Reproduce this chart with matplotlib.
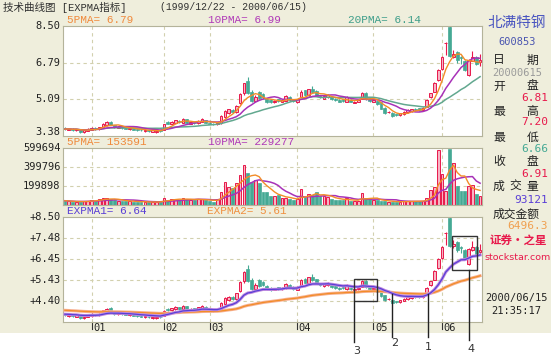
import numpy as np
import pandas as pd
import matplotlib
matplotlib.use("Agg")
import matplotlib.pyplot as plt
from matplotlib.patches import Rectangle

# 北满特钢 600853, daily bars 1999/12/22 - 2000/06/15
opens = [3.76, 3.66, 3.72, 3.64, 3.68, 3.56, 3.62,
         3.66, 3.76, 3.70, 3.78, 3.88, 4.04, 3.88, 3.76, 3.82, 3.78, 3.70, 3.74, 3.70, 3.68, 3.60, 3.64, 3.58, 3.56, 3.64,
         3.68, 4.02, 3.96, 4.00, 4.10, 4.00, 4.16, 3.96, 4.05, 3.98, 4.05, 4.12,
         3.98, 3.96, 3.93, 3.98, 4.28, 4.45, 4.60, 4.50, 4.90, 5.38, 5.95, 5.45, 5.00, 5.45, 5.35, 5.12, 5.05, 4.95, 5.08, 4.98, 5.02, 5.20, 5.10,
         4.95, 5.20, 5.50, 5.29, 5.55, 5.48, 5.25, 5.12, 5.18, 5.20, 5.12, 5.06, 5.08, 4.98, 5.04, 4.92, 4.98, 5.10, 5.38, 5.15,
         4.98, 5.00, 4.95, 4.70, 4.48, 4.45, 4.40, 4.36, 4.42, 4.50, 4.56, 4.64, 4.66, 4.58, 4.75, 5.20, 5.45, 5.99,
         6.49, 7.70, 8.45, 7.07, 7.30, 7.05, 6.88, 6.22, 6.88, 7.05, 6.81]
closes = [3.70, 3.72, 3.66, 3.70, 3.58, 3.64, 3.70,
          3.76, 3.70, 3.78, 3.96, 4.02, 3.90, 3.78, 3.82, 3.76, 3.72, 3.76, 3.68, 3.66, 3.64, 3.66, 3.60, 3.64, 3.62, 3.60,
          3.94, 3.96, 4.05, 4.12, 4.02, 4.18, 4.00, 4.02, 3.98, 4.10, 4.18, 4.00,
          3.94, 3.92, 3.98, 4.32, 4.55, 4.62, 4.50, 4.78, 5.35, 5.83, 5.38, 5.00, 5.20, 5.15, 5.20, 4.98, 4.95, 5.02, 5.00, 5.06, 5.25, 5.05, 5.00,
          5.08, 5.45, 5.30, 5.55, 5.45, 5.25, 5.20, 5.25, 5.30, 5.10, 5.05, 4.98, 5.02, 5.20, 4.98, 4.97, 5.05, 5.40, 5.10, 5.00,
          5.06, 4.85, 4.65, 4.45, 4.50, 4.32, 4.35, 4.43, 4.50, 4.58, 4.63, 4.60, 4.60, 4.68, 5.05, 5.36, 5.86, 6.45,
          7.04, 7.72, 7.10, 7.20, 6.90, 7.00, 6.45, 6.92, 7.05, 6.72, 6.91]
highs = [3.78, 3.75, 3.74, 3.72, 3.70, 3.66, 3.74,
         3.80, 3.78, 3.82, 3.98, 4.06, 4.10, 3.90, 3.86, 3.84, 3.80, 3.78, 3.76, 3.72, 3.70, 3.68, 3.66, 3.66, 3.64, 3.66,
         3.96, 4.06, 4.08, 4.14, 4.12, 4.20, 4.18, 4.06, 4.08, 4.12, 4.22, 4.14,
         4.02, 3.98, 4.00, 4.34, 4.58, 4.66, 4.64, 4.80, 5.38, 5.86, 6.14, 5.52, 5.28, 5.48, 5.38, 5.16, 5.08, 5.06, 5.10, 5.10, 5.30, 5.22, 5.12,
         5.12, 5.50, 5.54, 5.58, 5.72, 5.50, 5.30, 5.30, 5.34, 5.24, 5.16, 5.10, 5.12, 5.22, 5.08, 5.00, 5.08, 5.44, 5.42, 5.18,
         5.10, 5.02, 4.98, 4.72, 4.55, 4.48, 4.42, 4.46, 4.54, 4.62, 4.66, 4.68, 4.68, 4.72, 5.08, 5.40, 5.90, 6.50,
         7.10, 7.75, 8.50, 7.40, 7.35, 7.10, 6.92, 6.98, 7.32, 7.10, 7.20]
lows = [3.66, 3.64, 3.62, 3.60, 3.52, 3.54, 3.60,
        3.64, 3.66, 3.68, 3.76, 3.86, 3.88, 3.74, 3.74, 3.72, 3.70, 3.68, 3.66, 3.62, 3.60, 3.58, 3.56, 3.55, 3.54, 3.56,
        3.66, 3.94, 3.94, 3.98, 3.98, 3.98, 3.96, 3.94, 3.94, 3.96, 4.02, 3.98,
        3.92, 3.88, 3.90, 3.96, 4.24, 4.40, 4.44, 4.46, 4.86, 5.30, 5.34, 4.96, 4.96, 5.10, 5.12, 4.92, 4.90, 4.92, 4.96, 4.95, 5.00, 5.02, 4.96,
        4.92, 5.18, 5.26, 5.26, 5.40, 5.22, 5.14, 5.10, 5.14, 5.06, 5.00, 4.94, 4.98, 4.96, 4.94, 4.90, 4.95, 5.08, 5.06, 4.96,
        4.96, 4.82, 4.62, 4.40, 4.44, 4.28, 4.30, 4.32, 4.38, 4.46, 4.52, 4.55, 4.56, 4.55, 4.72, 5.15, 5.42, 5.95,
        6.45, 7.15, 7.05, 7.00, 6.80, 6.75, 6.40, 6.15, 6.85, 6.68, 6.66]
volumes = [45000, 40000, 35000, 30000, 35000, 40000, 45000,
           55000, 45000, 60000, 70000, 78000, 60000, 50000, 45000, 40000, 38000, 42000, 35000, 32000, 30000, 35000, 28000, 32000, 30000, 35000,
           70000, 55000, 60000, 65000, 55000, 70000, 60000, 55000, 50000, 65000, 60000, 50000,
           40000, 35000, 60000, 140000, 245000, 190000, 175000, 228000, 316000, 420000, 333000, 245000, 263000, 228000, 140000, 140000, 90000, 95000, 100000, 75000, 70000, 60000, 50000,
           60000, 165000, 80000, 115000, 100000, 140000, 95000, 90000, 85000, 60000, 55000, 50000, 55000, 70000, 45000, 40000, 45000, 123000, 70000, 65000,
           55000, 50000, 40000, 38000, 35000, 35000, 32000, 35000, 38000, 40000, 42000, 40000, 38000, 45000, 70000, 160000, 190000, 580000,
           330000, 150000, 590000, 440000, 200000, 145000, 150000, 195000, 210000, 120000, 93121]

month_labels = ["01", "02", "03", "04", "05", "06"]
month_starts = [7, 26, 38, 61, 81, 99]

price_ticks = [8.50, 6.79, 5.09, 3.38]
vol_ticks = [599694, 399796, 199898]
expma_ticks = [8.50, 7.48, 6.45, 5.43, 4.40]

info_labels = ["日期", "开盘", "最高", "最低", "收盘", "成交量", "成交金额"]
info_values = ["20000615", "6.81", "7.20", "6.66", "6.91", "93121", "6496.3"]

BG = "#EFEEDC"
RED = "#E8194B"
PINK = "#F7B4C4"
TEAL = "#45A994"
ORANGE = "#F28C28"
PURPLE = "#A832B8"
GREEN = "#62A88F"
BLUE = "#5A3FD6"
GRID = "#D2D0AE"
SPINE = "#B4B39A"
CJK = ["Noto Sans CJK SC", "DejaVu Sans"]
MONO = ["DejaVu Sans Mono", "Noto Sans CJK SC"]
LMONO = ["Liberation Mono", "Noto Sans CJK SC"]

W, H = 551, 360


def fx(px):
    return px / W


def fy(py):
    return 1 - py / H


def box(x0, y0, x1, y1):
    return [fx(x0), fy(y1), (x1 - x0) / W, (y1 - y0) / H]


def expma(values, span, start):
    alpha = 2 / (span + 1)
    out = []
    prev = start
    for v in values:
        prev = prev + alpha * (v - prev)
        out.append(prev)
    return np.array(out)


o = np.array(opens)
c = np.array(closes)
hi = np.array(highs)
lo = np.array(lows)
vol = np.array(volumes, dtype=float)
x = np.arange(len(c))
up = c >= o

ma5 = pd.Series(c).rolling(5, min_periods=1).mean()
ma10 = pd.Series(c).rolling(10, min_periods=1).mean()
ma20 = pd.Series(c).rolling(20, min_periods=1).mean()
vma5 = pd.Series(vol).rolling(5, min_periods=1).mean()
vma10 = pd.Series(vol).rolling(10, min_periods=1).mean()
exp1 = expma(c, 12, 3.77)
exp2 = expma(c, 50, 3.96)

fig = plt.figure(figsize=(5.51, 3.60), dpi=100)
fig.patch.set_facecolor("white")
fig.add_artist(Rectangle((0, fy(333)), 1, 1 - fy(333), transform=fig.transFigure,
                         facecolor=BG, edgecolor="none", zorder=0))

ax1 = fig.add_axes(box(63, 26, 482, 136))
ax2 = fig.add_axes(box(63, 148, 482, 205))
ax3 = fig.add_axes(box(63, 217, 482, 322))

for ax in (ax1, ax2, ax3):
    ax.set_facecolor("white")
    ax.set_xlim(-0.5, len(c) - 0.5)
    ax.set_xticks([])
    ax.set_yticks([])
    for s in ax.spines.values():
        s.set_color(SPINE)
        s.set_linewidth(0.8)
    for m in month_starts:
        ax.axvline(m, color=GRID, lw=0.8, ls=(0, (3, 3)), zorder=1)


def candles(ax):
    ax.vlines(x[up], lo[up], hi[up], color=RED, lw=0.8, zorder=2)
    ax.vlines(x[~up], lo[~up], hi[~up], color=TEAL, lw=0.8, zorder=2)
    bottom = np.minimum(o, c)
    height = np.maximum(np.abs(c - o), 0.025)
    ax.bar(x[up], height[up], bottom=bottom[up], width=0.72,
           facecolor=PINK, edgecolor=RED, lw=0.7, zorder=2)
    ax.bar(x[~up], height[~up], bottom=bottom[~up], width=0.72,
           facecolor=TEAL, edgecolor=TEAL, lw=0.5, zorder=2)


# price panel with moving averages
ax1.set_ylim(3.38, 8.50)
for t in price_ticks[1:3]:
    ax1.axhline(t, color=GRID, lw=0.8, ls=(0, (3, 3)), zorder=1)
candles(ax1)
ax1.plot(x, ma20, color=GREEN, lw=1.1, zorder=3)
ax1.plot(x, ma10, color=PURPLE, lw=1.1, zorder=3)
ax1.plot(x, ma5, color=ORANGE, lw=1.0, zorder=3)
ytr = ax1.get_yaxis_transform()
for t in price_ticks:
    off = 0.18 if t == price_ticks[-1] else 0
    ax1.text(-0.006, t + off, f"{t:.2f}", transform=ytr, ha="right", va="center",
             fontsize=7.5, family=MONO, color="#222222")

# volume panel
ax2.set_ylim(0, 599694)
for t in vol_ticks[1:]:
    ax2.axhline(t, color=GRID, lw=0.8, ls=(0, (3, 3)), zorder=1)
ax2.bar(x[up], vol[up], width=0.72, facecolor=PINK, edgecolor=RED, lw=0.7, zorder=2)
ax2.bar(x[~up], vol[~up], width=0.72, facecolor=TEAL, edgecolor=TEAL, lw=0.5, zorder=2)
ax2.plot(x, vma10, color=PURPLE, lw=1.1, zorder=3)
ax2.plot(x, vma5, color=ORANGE, lw=1.0, zorder=3)
ytr = ax2.get_yaxis_transform()
for t in vol_ticks:
    ax2.text(-0.006, t, str(t), transform=ytr, ha="right", va="center",
             fontsize=7.5, family=MONO, color="#222222")

# EXPMA panel
ax3.set_ylim(3.38, 8.50)
for t in expma_ticks[1:]:
    ax3.axhline(t, color=GRID, lw=0.8, ls=(0, (3, 3)), zorder=1)
candles(ax3)
ax3.plot(x, exp2, color="#F7B090", lw=2.2, zorder=3)
ax3.plot(x, exp2, color=ORANGE, lw=0.9, zorder=3)
ax3.plot(x, exp1, color="#C08AE0", lw=2.2, zorder=3)
ax3.plot(x, exp1, color=BLUE, lw=0.9, zorder=3)
ytr = ax3.get_yaxis_transform()
for t in expma_ticks:
    ax3.text(-0.006, t, f"+{t:.2f}", transform=ytr, ha="right", va="center",
             fontsize=7.5, family=MONO, color="#222222")
xtr = ax3.get_xaxis_transform()
for m, lab in zip(month_starts, month_labels):
    ax3.plot([m, m], [0, -0.07], transform=xtr, color="#333333", lw=0.8, clip_on=False)
    ax3.text(m + 0.4, -0.06, lab, transform=xtr, ha="left", va="center",
             fontsize=7.5, family=MONO, color="#222222")

# marked zones and signals below the EXPMA panel
ax3.add_patch(Rectangle((75.9, 4.40), 6.0, 1.06, fill=False, edgecolor="#333333", lw=1.0,
                        zorder=4, clip_on=False))
ax3.add_patch(Rectangle((101.5, 5.90), 6.7, 1.66, fill=False, edgecolor="#333333", lw=1.0,
                        zorder=4, clip_on=False))
signals = [("3", 75.9, 4.40, 2.40, 76.6, 1.98),
           ("2", 85.9, 4.75, 2.65, 86.5, 2.35),
           ("1", 95.2, 4.73, 2.65, 95.4, 2.16),
           ("4", 106.1, 5.90, 2.50, 106.7, 2.06)]
for lab, sx, y_top, y_bot, tx, ty in signals:
    ax3.plot([sx, sx], [y_top, y_bot], color="#222222", lw=1.0, clip_on=False, zorder=4)
    ax3.text(tx, ty, lab, ha="center", va="center", fontsize=8, color="#333333",
             family=["DejaVu Sans"], clip_on=False)

# headers
fig.text(fx(3), fy(7), "技术曲线图 [EXPMA指标]", fontsize=7.6, family=LMONO,
         color="#303030", va="center")
fig.text(fx(160), fy(7), "(1999/12/22 - 2000/06/15)", fontsize=7.0, family=LMONO,
         color="#303030", va="center")
fig.text(fx(67), fy(20), "5PMA= 6.79", fontsize=8, family=LMONO, color="#F08A3C", va="center")
fig.text(fx(208), fy(20), "10PMA= 6.99", fontsize=8, family=LMONO, color="#B03AB8", va="center")
fig.text(fx(348), fy(20), "20PMA= 6.14", fontsize=8, family=LMONO, color="#3E9E8A", va="center")
fig.text(fx(67), fy(142), "5PMA= 153591", fontsize=8, family=LMONO, color="#F08A3C", va="center")
fig.text(fx(208), fy(142), "10PMA= 229277", fontsize=8, family=LMONO, color="#B03AB8", va="center")
fig.text(fx(67), fy(211), "EXPMA1= 6.64", fontsize=8, family=LMONO, color=BLUE, va="center")
fig.text(fx(207), fy(211), "EXPMA2= 5.61", fontsize=8, family=LMONO, color="#F09040", va="center")

# right info column
fig.text(fx(517), fy(23), "北满特钢", fontsize=10.5, family=CJK, color="#4A55C0",
         ha="center", va="center")
fig.text(fx(517), fy(42), "600853", fontsize=7.5, family=MONO, color="#4A55B0",
         ha="center", va="center")
label_y = [60, 86, 111, 137, 162, 186, 214]
value_y = [73, 98, 122, 149, 174, 200, 226]
value_colors = ["#9A9A9A", RED, RED, TEAL, RED, BLUE, "#F0A050"]
for lab, val, ly, vy, vc in zip(info_labels, info_values, label_y, value_y, value_colors):
    if len(lab) == 4:
        fig.text(fx(493), fy(ly), lab, fontsize=8.5, family=CJK, color="#222222", va="center")
    else:
        fig.text(fx(493), fy(ly), lab[0], fontsize=8.5, family=CJK, color="#222222", va="center")
        fig.text(fx(538), fy(ly), lab[-1], fontsize=8.5, family=CJK, color="#222222",
                 ha="right", va="center")
        if len(lab) == 3:
            fig.text(fx(515), fy(ly), lab[1], fontsize=8.5, family=CJK, color="#222222",
                     ha="center", va="center")
    if lab == "日期":
        fig.text(fx(517), fy(vy), val, fontsize=7.5, family=MONO, color=vc, ha="center", va="center")
    else:
        fig.text(fx(548), fy(vy), val, fontsize=8, family=MONO, color=vc, ha="right", va="center")

fig.text(fx(518), fy(241), "证券·之星", fontsize=8.3, family=CJK, color=RED, weight="bold",
         ha="center", va="center")
fig.text(fx(518), fy(257), "stockstar.com", fontsize=6.8, family=["DejaVu Sans"], color=RED,
         ha="center", va="center")
fig.text(fx(517), fy(298), "2000/06/15", fontsize=7.5, family=MONO, color="#222222",
         ha="center", va="center")
fig.text(fx(516), fy(311), "21:35:17", fontsize=7.5, family=MONO, color="#222222",
         ha="center", va="center")

fig.savefig("out.png", dpi=100)
